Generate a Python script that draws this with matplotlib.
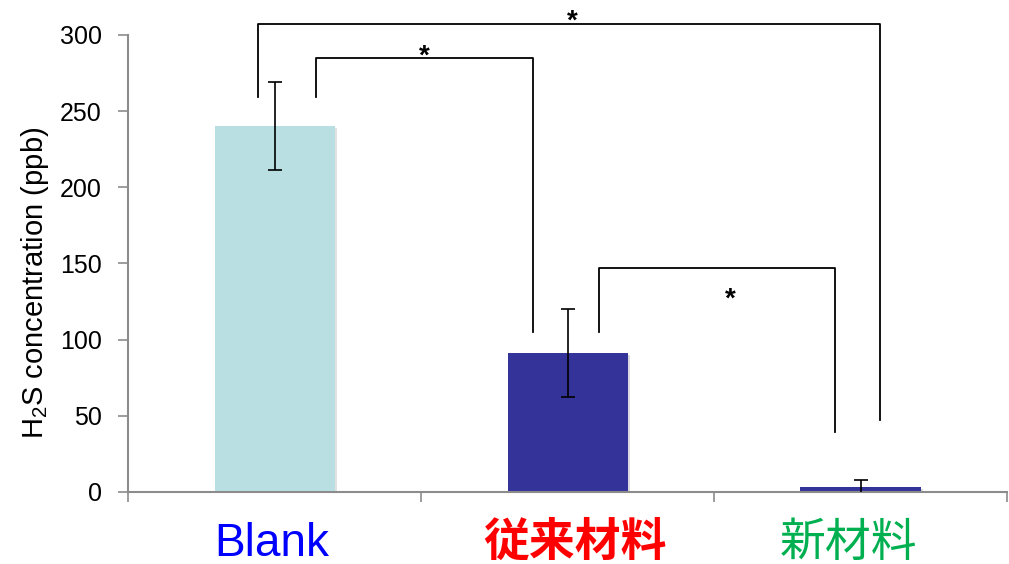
import numpy as np
import matplotlib.pyplot as plt
import matplotlib.patheffects as pe

plt.rcParams['font.family'] = ['Liberation Sans', 'Noto Sans CJK JP', 'DejaVu Sans']
plt.rcParams['mathtext.default'] = 'regular'

# H2S concentration per material
categories = ["Blank", "従来材料", "新材料"]
means = [240, 91, 3]
errors = [29, 29, 5]
bar_colors = ["#b9dfe2", "#333399", "#333399"]
label_colors = ["#0000ff", "#ff0000", "#00b050"]
label_weights = ["normal", "bold", "normal"]
label_shift = [-0.01, 0.025, -0.04]

# significance brackets: (x_left, y_left_end, x_right, y_right_end, y_top, star_x, star_y)
brackets = [
    (-0.056, 259, 2.067, 47, 307, 1.015, 309),
    (0.142, 259, 0.882, 105, 285, 0.510, 286),
    (1.107, 105, 1.913, 39, 147, 1.555, 126),
]

fig = plt.figure(figsize=(10.09, 5.64), dpi=100)
ax = fig.add_axes([0.127, 0.128, 0.871, 0.81])

x = np.arange(len(categories))
bars = ax.bar(x, means, width=0.41, color=bar_colors, zorder=2)
for b in bars:
    b.set_path_effects([pe.SimplePatchShadow(offset=(1.5, -1.5), alpha=0.15), pe.Normal()])
ax.errorbar(x, means, yerr=errors, fmt="none", ecolor="black",
            elinewidth=1.2, capsize=5, capthick=1.2, zorder=3)

for xl, yl, xr, yr, yt, sx, sy in brackets:
    ax.plot([xl, xl, xr, xr], [yl, yt, yt, yr], color="black", lw=1.3,
            clip_on=False, zorder=4)
    ax.text(sx, sy, "*", ha="center", va="center", fontsize=20,
            fontweight="bold", clip_on=False)

ax.set_xlim(-0.5, 2.5)
ax.set_ylim(0, 300)
ax.set_yticks(np.arange(0, 301, 50))
ax.tick_params(axis="y", labelsize=18, length=7, width=1.2, color="#8c8c8c",
               direction="out", pad=12)
ax.set_xticks([-0.5, 0.5, 1.5, 2.5])
ax.set_xticklabels([])
ax.tick_params(axis="x", length=7, width=1.2, color="#8c8c8c", direction="out")

for i, (name, c, w) in enumerate(zip(categories, label_colors, label_weights)):
    ax.text(x[i] + label_shift[i], -34, name, ha="center", va="center",
            fontsize=33, color=c, fontweight=w, clip_on=False)

for s in ("top", "right"):
    ax.spines[s].set_visible(False)
for s in ("left", "bottom"):
    ax.spines[s].set_color("#8c8c8c")
    ax.spines[s].set_linewidth(1.5)

ax.set_ylabel("H$_2$S concentration (ppb)", fontsize=21)
ax.yaxis.set_label_coords(-0.088, 0.457)

fig.savefig("out.png", dpi=100)
